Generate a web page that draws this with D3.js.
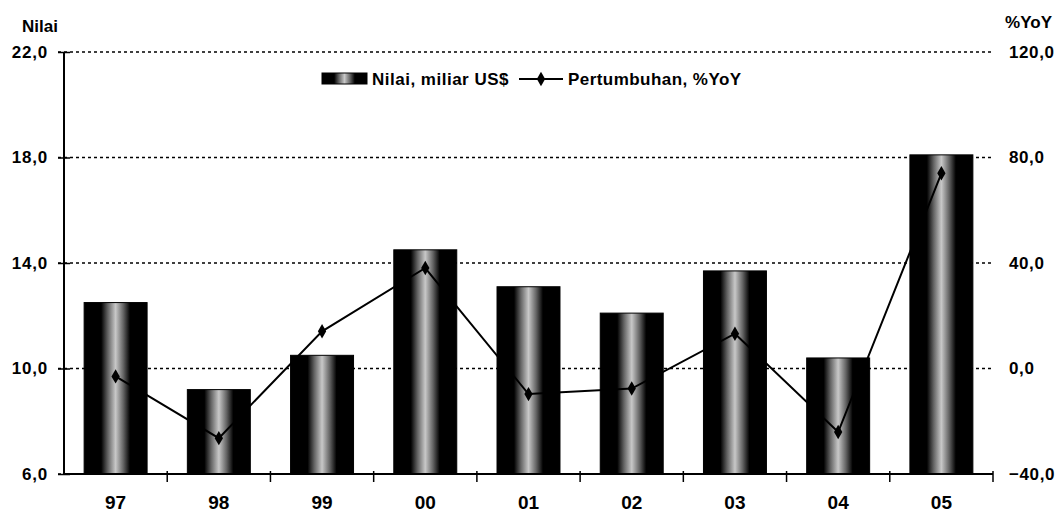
<!DOCTYPE html>
<html><head><meta charset="utf-8">
<script src="https://cdn.jsdelivr.net/npm/d3@7"></script>
<style>
html,body{margin:0;padding:0;background:#fff;}
svg{display:block;font-family:"Liberation Sans",Arial,sans-serif;font-weight:bold;}
</style></head>
<body>
<svg id="chart" width="1058" height="513"></svg>
<script>
const categories = ["97","98","99","00","01","02","03","04","05"];
const nilai = [12.5, 9.2, 10.5, 14.5, 13.1, 12.1, 13.7, 10.4, 18.1];
const pertumbuhan = [-3.0, -26.4, 14.1, 38.1, -9.7, -7.6, 13.2, -24.1, 74.0];
const leftTicks = [6, 10, 14, 18, 22];
const rightTicks = [-40, 0, 40, 80, 120];
const leftTitle = "Nilai";
const rightTitle = "%YoY";
const legendLabels = ["Nilai, miliar US$", "Pertumbuhan, %YoY"];

const W = 1058, H = 513;
const m = {top: 52, right: 65, bottom: 39, left: 64};
const svg = d3.select("#chart");
const fmt = v => d3.format(".1f")(v).replace(".", ",");

const x = d3.scaleBand().domain(categories).range([m.left, W - m.right]).paddingInner(0.39).paddingOuter(0.195);
const yL = d3.scaleLinear().domain([6, 22]).range([H - m.bottom, m.top]);
const yR = d3.scaleLinear().domain([-40, 120]).range([H - m.bottom, m.top]);

// gradient for bars
const defs = svg.append("defs");
const g = defs.append("linearGradient").attr("id","barGrad").attr("x1","0%").attr("x2","100%").attr("y1","0%").attr("y2","0%");
[[0,"#000"],[0.27,"#000"],[0.38,"#666"],[0.5,"#c8c8c8"],[0.62,"#666"],[0.73,"#000"],[1,"#000"]].forEach(([o,c]) =>
  g.append("stop").attr("offset", o*100+"%").attr("stop-color", c));

// gridlines
svg.append("g").selectAll("line").data(leftTicks).join("line")
  .attr("x1", m.left - 6).attr("x2", W - m.right)
  .attr("y1", d => yL(d)).attr("y2", d => yL(d))
  .attr("stroke", "#000").attr("stroke-width", 1.5).attr("stroke-dasharray", "3,3");

// bars
svg.append("g").selectAll("rect").data(nilai).join("rect")
  .attr("x", (d,i) => x(categories[i]))
  .attr("width", x.bandwidth())
  .attr("y", d => yL(d))
  .attr("height", d => yL(6) - yL(d))
  .attr("fill", "url(#barGrad)")
  .attr("stroke", "#000").attr("stroke-width", 1);

// left axis
const axL = svg.append("g").attr("transform", `translate(${m.left},0)`)
  .call(d3.axisLeft(yL).tickValues(leftTicks).tickFormat(fmt).tickSize(6).tickPadding(10));
axL.select(".domain").attr("d", `M0,${yL(22)}V${yL(6)}`).attr("stroke-width", 2);
axL.selectAll(".tick line").attr("stroke-width", 1.5).attr("x2", -6).attr("x1", 6);
axL.selectAll("text").attr("font-size", 17).attr("font-weight", "bold").attr("font-family", "Liberation Sans, Arial, sans-serif").attr("fill","#000").attr("letter-spacing", 0.8);

// right axis labels (no domain line)
const axR = svg.append("g").attr("transform", `translate(${W - m.right},0)`)
  .call(d3.axisRight(yR).tickValues(rightTicks).tickFormat(fmt).tickSize(0).tickPadding(16));
axR.select(".domain").remove();
axR.selectAll("text").attr("font-size", 17).attr("font-weight", "bold").attr("font-family", "Liberation Sans, Arial, sans-serif").attr("fill","#000").attr("letter-spacing", 0.6);

// bottom axis
const bottomY = yL(6);
svg.append("line").attr("x1", m.left).attr("x2", W - m.right).attr("y1", bottomY).attr("y2", bottomY)
  .attr("stroke", "#000").attr("stroke-width", 2);
const step = x.step();
const bounds = categories.map((c,i) => x(c) - x.paddingInner()*step/2 + step);
svg.append("g").selectAll("line").data(bounds).join("line")
  .attr("x1", d => d).attr("x2", d => d).attr("y1", bottomY - 3).attr("y2", bottomY + 8)
  .attr("stroke", "#000").attr("stroke-width", 1.5);
svg.append("g").selectAll("text").data(categories).join("text")
  .attr("x", d => x(d) + x.bandwidth()/2).attr("y", 509)
  .attr("text-anchor", "middle").attr("font-size", 19).text(d => d);

// line series
const line = d3.line().x((d,i) => x(categories[i]) + x.bandwidth()/2).y(d => yR(d));
svg.append("path").datum(pertumbuhan).attr("d", line)
  .attr("fill", "none").attr("stroke", "#000").attr("stroke-width", 2);
const diamond = d3.symbol().type(d3.symbolDiamond).size(60);
svg.append("g").selectAll("path").data(pertumbuhan).join("path")
  .attr("transform", (d,i) => `translate(${x(categories[i]) + x.bandwidth()/2},${yR(d)})`)
  .attr("d", diamond).attr("fill", "#000");

// titles
svg.append("text").attr("x", 22).attr("y", 32).attr("font-size", 17).text(leftTitle);
svg.append("text").attr("x", 1052).attr("y", 28).attr("text-anchor","end").attr("font-size", 17).text(rightTitle);

// legend
const lg = svg.append("g");
lg.append("rect").attr("x", 322).attr("y", 73).attr("width", 45).attr("height", 11).attr("fill", "url(#barGrad)").attr("stroke","#000");
lg.append("text").attr("x", 372).attr("y", 85).attr("font-size", 17).attr("letter-spacing", 0.5).text(legendLabels[0]);
lg.append("line").attr("x1", 519).attr("x2", 563).attr("y1", 79).attr("y2", 79).attr("stroke","#000").attr("stroke-width",2);
lg.append("path").attr("transform","translate(541,79)").attr("d", diamond).attr("fill","#000");
lg.append("text").attr("x", 568).attr("y", 85).attr("font-size", 17).attr("letter-spacing", 0.45).text(legendLabels[1]);
</script>
</body></html>
